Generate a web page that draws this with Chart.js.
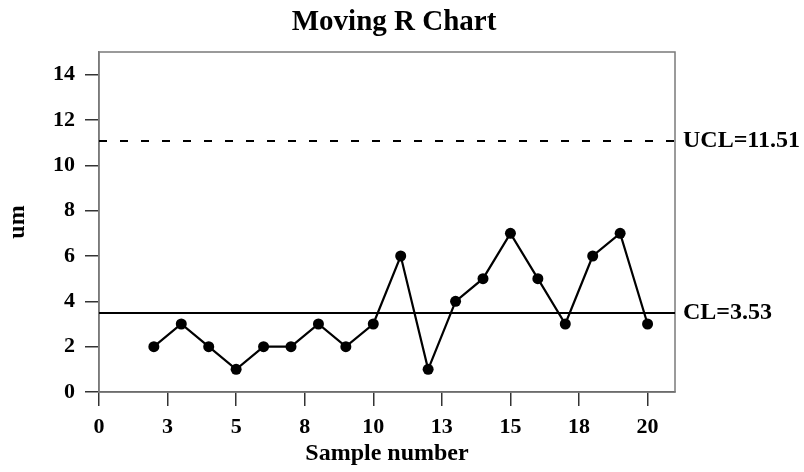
<!DOCTYPE html>
<html>
<head>
<meta charset="utf-8">
<script src="https://cdn.jsdelivr.net/npm/chart.js@4.4.0/dist/chart.umd.min.js"></script>
<style>
html, body { margin: 0; padding: 0; background: #fff; }
</style>
</head>
<body>
<canvas id="mrChart" width="804" height="472"></canvas>
<script>
// moving range values, one per sample from sample 2 on
const samples = [2, 3, 4, 5, 6, 7, 8, 9, 10, 11, 12, 13, 14, 15, 16, 17, 18, 19, 20]
const movingRange = [2, 3, 2, 1, 2, 2, 3, 2, 3, 6, 1, 4, 5, 7, 5, 3, 6, 7, 3]

// control limits: label text and where the line sits on the picture
const limitNames = ['UCL=11.51', 'CL=3.53']
const limitLevels = [11.07, 3.48]

const xTicks = [0, 2.5, 5, 7.5, 10, 12.5, 15, 17.5, 20]
const yTicks = [0, 2, 4, 6, 8, 10, 12, 14]

const SERIF = "'Liberation Serif', 'Times New Roman', serif"

const framePlugin = {
    id: 'frame',
    beforeDatasetsDraw(chart) {
        const { ctx, chartArea: a } = chart
        ctx.save()
        ctx.strokeStyle = '#7a7a7a'
        ctx.lineWidth = 1.5
        ctx.strokeRect(a.left, a.top, a.right - a.left, a.bottom - a.top)
        ctx.restore()
    },
    afterDraw(chart) {
        const { ctx, chartArea: a, scales } = chart
        ctx.save()
        ctx.fillStyle = '#000'
        ctx.font = 'bold 29px ' + SERIF
        ctx.textAlign = 'center'
        ctx.textBaseline = 'alphabetic'
        ctx.fillText('Moving R Chart', 394, 30)

        ctx.font = 'bold 24px ' + SERIF
        ctx.textAlign = 'left'
        ctx.textBaseline = 'middle'
        limitNames.forEach((name, i) => {
            ctx.fillText(name, a.right + 8, scales.y.getPixelForValue(limitLevels[i]))
        })
        ctx.restore()
    }
}

const limitSets = limitNames.map((name, i) => ({
    label: name,
    data: [{ x: 0, y: limitLevels[i] }, { x: 21, y: limitLevels[i] }],
    borderColor: '#000',
    borderWidth: 2,
    borderDash: i === 0 ? [8, 13] : [],
    pointRadius: 0,
    fill: false
}))

new Chart(document.getElementById('mrChart'), {
    type: 'line',
    data: {
        datasets: [{
            label: 'Moving R',
            data: samples.map((s, i) => ({ x: s, y: movingRange[i] })),
            borderColor: '#000',
            backgroundColor: '#000',
            borderWidth: 2.2,
            pointRadius: 5.5,
            pointBorderWidth: 0,
            tension: 0
        }, ...limitSets]
    },
    options: {
        responsive: false,
        animation: false,
        layout: { padding: { top: 52, right: 129, left: 0, bottom: 0 } },
        plugins: {
            legend: { display: false },
            tooltip: { enabled: false }
        },
        scales: {
            x: {
                type: 'linear',
                min: 0,
                max: 21,
                afterBuildTicks: s => { s.ticks = xTicks.map(v => ({ value: v })) },
                afterFit: s => { s.height = 80 },
                grid: { drawOnChartArea: false, drawTicks: true, tickLength: 14, color: '#333', lineWidth: 1.5 },
                border: { display: true, color: '#444', width: 1.5 },
                ticks: {
                    color: '#000',
                    padding: 8,
                    maxRotation: 0,
                    font: { family: SERIF, size: 22, weight: 'bold' },
                    callback: v => Math.round(v)
                },
                title: {
                    display: true,
                    text: 'Sample number',
                    color: '#000',
                    padding: { top: 0, bottom: 4 },
                    font: { family: SERIF, size: 24, weight: 'bold' }
                }
            },
            y: {
                min: 0,
                max: 15,
                afterBuildTicks: s => { s.ticks = yTicks.map(v => ({ value: v })) },
                afterFit: s => { s.width = 99 },
                grid: { drawOnChartArea: false, drawTicks: true, tickLength: 14, color: '#333', lineWidth: 1.5 },
                border: { display: true, color: '#7a7a7a', width: 1.5 },
                ticks: {
                    color: '#000',
                    padding: 10,
                    font: { family: SERIF, size: 22, weight: 'bold' }
                },
                title: {
                    display: true,
                    text: 'um',
                    color: '#000',
                    padding: { top: 3, bottom: 0 },
                    font: { family: SERIF, size: 24, weight: 'bold' }
                }
            }
        }
    },
    plugins: [framePlugin]
})
</script>
</body>
</html>
